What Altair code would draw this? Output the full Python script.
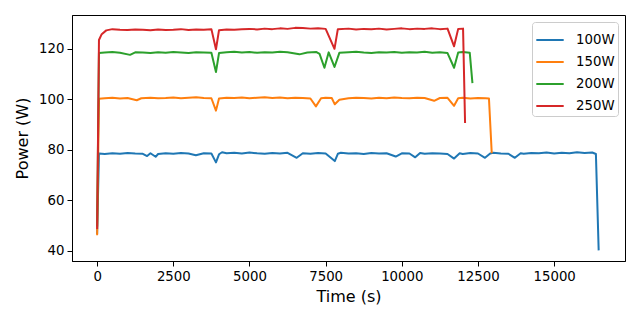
import altair as alt
import pandas as pd

# 100W series
t100 = [0, 60, 250, 500, 750, 1000, 1250, 1500, 1640, 1750, 1920, 2000, 2250, 2500, 2750, 3000,
        3240, 3500, 3750, 3900, 4000, 4100, 4250, 4500, 4750, 5000, 5250, 5500, 5750, 6000, 6250,
        6550, 6750, 7000, 7250, 7500, 7800, 7900, 8000, 8250, 8500, 8750, 9000, 9250, 9500, 9800,
        10000, 10250, 10440, 10600, 10750, 11000, 11250, 11500, 11715, 11900, 12000, 12250, 12500,
        12730, 12900, 13000, 13250, 13500, 13710, 13900, 14000, 14250, 14500, 14750, 15000, 15250,
        15500, 15750, 16000, 16250, 16370, 16460]
p100 = [47.0, 78.5, 78.3, 78.6, 78.4, 78.7, 78.5, 78.4, 77.5, 78.6, 77.2, 78.3, 78.6, 78.4, 78.7, 78.5,
        77.8, 78.6, 78.5, 75.0, 78.2, 79.0, 78.6, 78.8, 78.5, 78.9, 78.6, 78.4, 78.7, 78.5, 78.8,
        76.8, 78.6, 78.4, 78.7, 78.5, 75.5, 78.4, 78.8, 78.5, 78.6, 78.3, 78.7, 78.5, 78.6, 77.3,
        78.6, 78.5, 77.0, 78.7, 78.4, 78.6, 78.5, 78.3, 76.5, 78.6, 78.3, 78.7, 78.5,
        76.8, 78.5, 78.8, 78.5, 78.4, 76.8, 78.6, 78.4, 78.7, 78.6, 78.9, 78.5, 78.8,
        78.6, 79.0, 78.7, 78.9, 78.3, 40.5]

# 150W series
t150 = [0, 60, 250, 500, 750, 1000, 1300, 1450, 1750, 2000, 2250, 2500, 2750, 3000, 3250, 3500,
        3750, 3900, 4000, 4250, 4500, 4750, 5000, 5250, 5500, 5750, 6000, 6250, 6500, 6750, 7000,
        7180, 7350, 7500, 7700, 7800, 7950, 8250, 8500, 8750, 9000, 9250, 9500, 9750, 10000, 10250,
        10500, 10750, 11060, 11250, 11500, 11715, 11850, 12000, 12250, 12500, 12750, 12860, 12950]
p150 = [46.5, 100.2, 100.4, 100.6, 100.3, 100.5, 99.6, 100.4, 100.6, 100.4, 100.5, 100.7, 100.4, 100.6, 100.8, 100.5,
        100.4, 95.5, 100.3, 100.6, 100.5, 100.7, 100.4, 100.6, 100.8, 100.5, 100.7, 100.4, 100.6, 100.5, 100.3,
        97.2, 100.4, 100.6, 100.5, 98.0, 99.8, 100.4, 100.6, 100.5, 100.3, 100.6, 100.4, 100.7, 100.5, 100.4,
        100.6, 100.5, 99.4, 100.5, 100.6, 97.4, 100.4, 100.6, 100.3, 100.5, 100.4, 100.3, 79.0]

# 200W series
t200 = [0, 60, 250, 500, 750, 1080, 1250, 1500, 1750, 2000, 2250, 2500, 2750, 3000, 3250, 3500,
        3750, 3900, 4000, 4250, 4500, 4750, 5000, 5250, 5500, 5750, 6000, 6250, 6640, 6900, 7200,
        7300, 7460, 7600, 7790, 7950, 8250, 8500, 8750, 9000, 9250, 9500, 9750, 10000, 10250,
        10500, 10750, 11000, 11250, 11500, 11715, 11850, 12000, 12230, 12315]
p200 = [50.0, 118.3, 118.5, 118.7, 118.4, 117.6, 118.6, 118.5, 118.3, 118.6, 118.4, 118.7, 118.5, 118.3, 118.6, 118.5,
        118.4, 110.8, 118.3, 118.6, 118.8, 118.5, 118.7, 118.4, 118.6, 118.5, 118.8, 118.6, 117.8, 118.5, 118.7,
        118.0, 112.5, 118.6, 112.8, 118.4, 118.6, 118.8, 118.5, 118.3, 118.6, 118.5, 118.7, 118.4, 118.6,
        118.5, 118.8, 118.4, 118.6, 118.3, 112.5, 118.5, 118.7, 118.4, 106.8]

# 250W series
t250 = [0, 60, 150, 300, 500, 750, 1000, 1250, 1500, 1750, 2000, 2250, 2500, 2750, 3000, 3250,
        3500, 3750, 3900, 4000, 4250, 4500, 4750, 5000, 5250, 5500, 5750, 6000, 6250, 6500, 6750,
        7000, 7250, 7500, 7790, 7900, 8250, 8500, 8750, 9000, 9250, 9500, 9750, 10000, 10250,
        10500, 10750, 11000, 11250, 11500, 11715, 11850, 12010, 12075]
p250 = [49.0, 123.5, 125.8, 127.3, 127.8, 127.6, 127.5, 127.7, 127.6, 127.4, 127.7, 127.5, 127.6, 127.8, 127.5, 127.7,
        127.6, 127.8, 119.8, 127.4, 127.7, 127.6, 127.8, 127.9, 127.7, 128.0, 127.8, 128.1, 127.9, 128.3, 128.2,
        128.0, 128.1, 127.9, 120.0, 127.8, 128.0, 127.7, 127.9, 127.8, 128.0, 127.7, 127.9, 128.1, 127.8,
        128.0, 127.9, 128.1, 127.8, 128.0, 121.0, 127.9, 128.0, 91.0]

series_names = ["100W", "150W", "200W", "250W"]
series_colors = ["#1f77b4", "#ff7f0e", "#2ca02c", "#d62728"]
x_ticks = [0, 2500, 5000, 7500, 10000, 12500, 15000]
y_ticks = [40, 60, 80, 100, 120]

frames = []
for name, ts, ps in zip(series_names, [t100, t150, t200, t250], [p100, p150, p200, p250]):
    frames.append(pd.DataFrame({"time": ts, "power": ps, "series": name}))
df = pd.concat(frames, ignore_index=True)

font = "DejaVu Sans"

chart = alt.Chart(df).mark_line(strokeWidth=2, strokeJoin="round", strokeCap="square").encode(
    x=alt.X("time:Q", title="Time (s)",
            scale=alt.Scale(domain=[-825, 17325], nice=False, zero=False),
            axis=alt.Axis(values=x_ticks, format="d", grid=False)),
    y=alt.Y("power:Q", title="Power (W)",
            scale=alt.Scale(domain=[35.9, 133.4], nice=False, zero=False),
            axis=alt.Axis(values=y_ticks, format="d", grid=False)),
    color=alt.Color("series:N", title=None,
                    scale=alt.Scale(domain=series_names, range=series_colors),
                    legend=alt.Legend(orient="top-right", offset=7, symbolType="stroke",
                                      symbolSize=750, symbolStrokeWidth=2,
                                      labelFontSize=13.3, labelFont=font, labelColor="black",
                                      padding=3, rowPadding=-3.5, labelOffset=11,
                                      strokeColor="#cccccc", fillColor="white",
                                      cornerRadius=3)),
    order=alt.Order("time:Q"),
).properties(
    width=553, height=246,
    autosize=alt.AutoSizeParams(type="none"),
    padding={"left": 64, "top": 7, "right": 7, "bottom": 51},
).configure_view(
    stroke="black", strokeWidth=1
).configure_axis(
    domainColor="black", tickColor="black", labelColor="black", titleColor="black",
    labelFont=font, titleFont=font, labelFontSize=13.3, titleFontSize=16,
    titleFontWeight="normal", tickSize=5, labelPadding=3, domainWidth=1, tickWidth=1,
).configure_axisX(
    titlePadding=6
).configure_axisY(
    titlePadding=8
)

chart.save("out.html", embed_options={"renderer": "svg", "actions": False})
